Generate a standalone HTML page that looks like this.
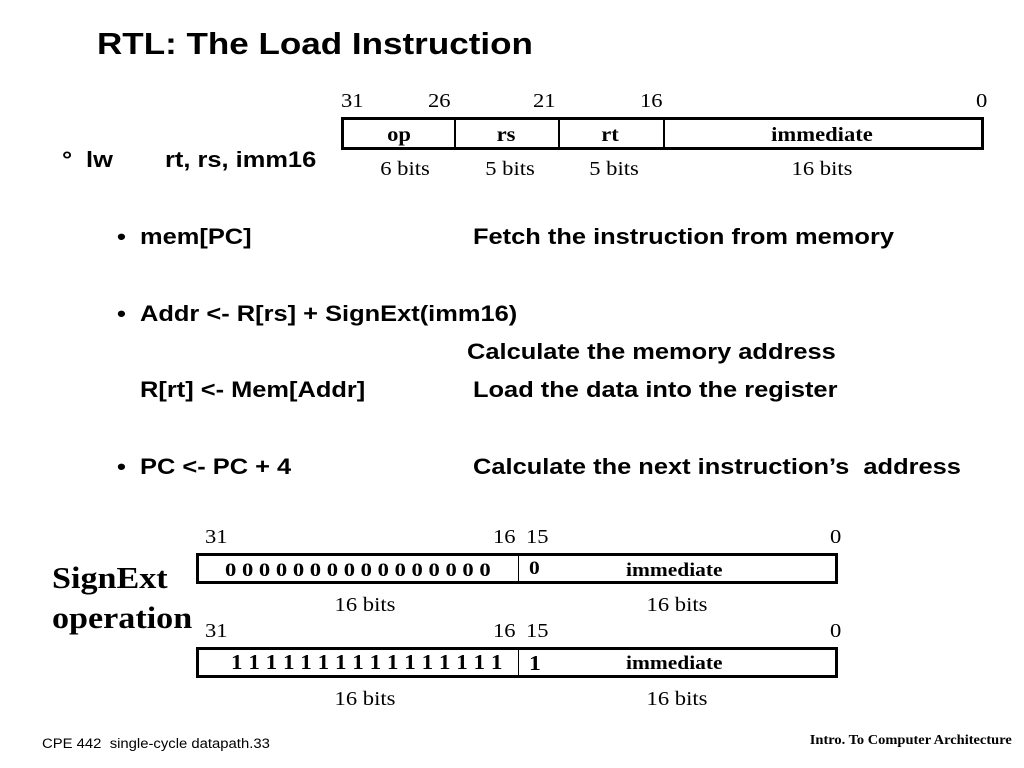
<!DOCTYPE html>
<html><head><meta charset="utf-8"><style>
body{margin:0;width:1024px;height:768px;background:#fff;position:relative;overflow:hidden;color:#000}
.t{position:absolute;white-space:nowrap;line-height:1;transform:scaleX(1.13);transform-origin:0 50%}
.c{text-align:center;transform-origin:50% 50%}
.r{transform-origin:100% 50%}
.a{font-family:"Liberation Sans",Arial,sans-serif;font-weight:bold;font-size:22.5px}
.s{font-family:"Liberation Serif","Times New Roman",serif;font-size:20px}
.b{font-weight:bold}
.box{position:absolute;border:3px solid #000;box-sizing:border-box}
.v{position:absolute;top:0;bottom:0;width:2px;background:#000}
</style></head><body>
<div class="t a" style="left:97px;top:28px;font-size:31px">RTL: The Load Instruction</div>

<div class="t a" style="left:62px;top:149px">°</div>
<div class="t a" style="left:86px;top:149px">lw</div>
<div class="t a" style="left:165px;top:149px">rt, rs, imm16</div>

<div class="t a" style="left:117px;top:226px">•</div>
<div class="t a" style="left:140px;top:226px">mem[PC]</div>
<div class="t a" style="left:473px;top:226px">Fetch the instruction from memory</div>

<div class="t a" style="left:117px;top:303px">•</div>
<div class="t a" style="left:140px;top:303px">Addr &lt;- R[rs] + SignExt(imm16)</div>
<div class="t a" style="left:467px;top:341px">Calculate the memory address</div>
<div class="t a" style="left:140px;top:379px">R[rt] &lt;- Mem[Addr]</div>
<div class="t a" style="left:473px;top:379px">Load the data into the register</div>

<div class="t a" style="left:117px;top:456px">•</div>
<div class="t a" style="left:140px;top:456px">PC &lt;- PC + 4</div>
<div class="t a" style="left:473px;top:456px">Calculate the next instruction’s&nbsp; address</div>

<!-- top format -->
<div class="t s" style="left:341px;top:91px">31</div>
<div class="t s" style="left:428px;top:91px">26</div>
<div class="t s" style="left:533px;top:91px">21</div>
<div class="t s" style="left:640px;top:91px">16</div>
<div class="t s" style="left:976px;top:91px">0</div>
<div class="box" style="left:341px;top:117px;width:643px;height:33px">
 <div class="v" style="left:110px"></div><div class="v" style="left:214px"></div><div class="v" style="left:319px"></div>
</div>
<div class="t s b c" style="left:344px;top:125px;width:110px">op</div>
<div class="t s b c" style="left:454px;top:125px;width:104px">rs</div>
<div class="t s b c" style="left:558px;top:125px;width:104px">rt</div>
<div class="t s b c" style="left:662px;top:125px;width:320px">immediate</div>
<div class="t s c" style="left:344px;top:159px;width:122px">6 bits</div>
<div class="t s c" style="left:460px;top:159px;width:100px">5 bits</div>
<div class="t s c" style="left:564px;top:159px;width:100px">5 bits</div>
<div class="t s c" style="left:662px;top:159px;width:320px">16 bits</div>

<div class="t s b" style="left:52px;top:562px;font-size:31px;transform:scaleX(1.1)">SignExt</div>
<div class="t s b" style="left:52px;top:602px;font-size:31px;transform:scaleX(1.1)">operation</div>

<!-- box 1 -->
<div class="t s" style="left:205px;top:527px">31</div>
<div class="t s" style="left:493px;top:527px">16</div>
<div class="t s" style="left:526px;top:527px">15</div>
<div class="t s" style="left:830px;top:527px">0</div>
<div class="box" style="left:196px;top:553px;width:642px;height:31px"><div class="v" style="left:319px;width:1px"></div></div>
<div class="t s b" style="left:225px;top:561px;font-size:19px;transform:scaleX(1.19)">0 0 0 0 0 0 0 0 0 0 0 0 0 0 0 0</div>
<div class="t s b" style="left:529px;top:559px;font-size:19px">0</div>
<div class="t s b" style="left:626px;top:561px;font-size:19px">immediate</div>
<div class="t s c" style="left:305px;top:595px;width:120px">16 bits</div>
<div class="t s c" style="left:617px;top:595px;width:120px">16 bits</div>

<!-- box 2 -->
<div class="t s" style="left:205px;top:621px">31</div>
<div class="t s" style="left:493px;top:621px">16</div>
<div class="t s" style="left:526px;top:621px">15</div>
<div class="t s" style="left:830px;top:621px">0</div>
<div class="box" style="left:196px;top:647px;width:642px;height:31px"><div class="v" style="left:319px;width:1px"></div></div>
<div class="t s b" style="left:231px;top:652px;font-size:21px;transform:scaleX(1.1)">1 1 1 1 1 1 1 1 1 1 1 1 1 1 1 1</div>
<div class="t s b" style="left:529px;top:653px;font-size:21px">1</div>
<div class="t s b" style="left:626px;top:654px;font-size:19px">immediate</div>
<div class="t s c" style="left:305px;top:689px;width:120px">16 bits</div>
<div class="t s c" style="left:617px;top:689px;width:120px">16 bits</div>

<div class="t" style="left:42px;top:737px;font-family:'Liberation Sans',Arial,sans-serif;font-size:13.5px;transform:scaleX(1.1)">CPE 442&nbsp; single-cycle datapath.33</div>
<div class="t r" style="right:12px;top:733px;font-family:'Liberation Serif',serif;font-weight:bold;font-size:13.5px;transform:scaleX(1.07)">Intro. To Computer Architecture</div>
</body></html>
